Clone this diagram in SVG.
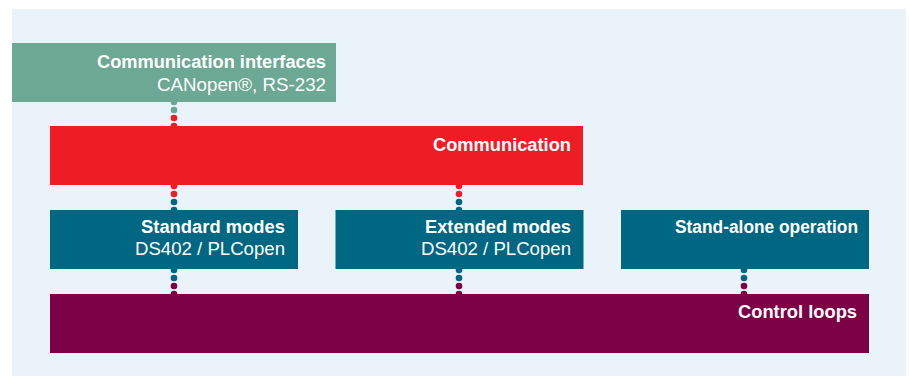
<svg xmlns="http://www.w3.org/2000/svg" width="909" height="376" viewBox="0 0 909 376">
<style>
.t{font-family:"Liberation Sans",Arial,sans-serif;font-size:17.5px;fill:#fff;text-anchor:end}
.b{font-weight:bold}
</style>
<rect x="0" y="0" width="909" height="376" fill="#fff"/>
<rect x="12" y="9" width="894" height="367" fill="#eaf2fa"/>
<g id="connectors">
<g fill="#6ca893"><circle cx="174" cy="102" r="3.3"/><circle cx="174" cy="110" r="3.3"/></g>
<g fill="#ee1c25"><circle cx="174" cy="118" r="3.3"/><circle cx="174" cy="126" r="3.3"/>
<circle cx="174" cy="186" r="3.3"/><circle cx="174" cy="194" r="3.3"/>
<circle cx="459" cy="186" r="3.3"/><circle cx="459" cy="194" r="3.3"/></g>
<g fill="#006783"><circle cx="174" cy="202" r="3.3"/><circle cx="174" cy="210" r="3.3"/>
<circle cx="459" cy="202" r="3.3"/><circle cx="459" cy="210" r="3.3"/>
<circle cx="174" cy="270" r="3.3"/><circle cx="174" cy="278" r="3.3"/>
<circle cx="459" cy="270" r="3.3"/><circle cx="459" cy="278" r="3.3"/>
<circle cx="744" cy="270" r="3.3"/><circle cx="744" cy="278" r="3.3"/></g>
<g fill="#7b0046"><circle cx="174" cy="286" r="3.3"/><circle cx="174" cy="294" r="3.3"/>
<circle cx="459" cy="286" r="3.3"/><circle cx="459" cy="294" r="3.3"/>
<circle cx="744" cy="286" r="3.3"/><circle cx="744" cy="294" r="3.3"/></g>
</g>
<g id="comm-interfaces">
<rect x="12" y="43" width="324" height="59" fill="#6ca893"/>
<text class="t b" x="326" y="67.5" textLength="229" lengthAdjust="spacingAndGlyphs">Communication interfaces</text>
<text class="t" x="326" y="90.5" textLength="169" lengthAdjust="spacingAndGlyphs">CANopen®, RS-232</text>
</g>
<g id="communication">
<rect x="50" y="126" width="533" height="59" fill="#ee1c25"/>
<text class="t b" x="571" y="150.7" textLength="138" lengthAdjust="spacingAndGlyphs">Communication</text>
</g>
<g id="standard-modes">
<rect x="50" y="210" width="248" height="59" fill="#006783"/>
<text class="t b" x="285" y="232.7" textLength="144" lengthAdjust="spacingAndGlyphs">Standard modes</text>
<text class="t" x="285" y="255" textLength="150" lengthAdjust="spacingAndGlyphs">DS402 / PLCopen</text>
</g>
<g id="extended-modes">
<rect x="335.5" y="210" width="248" height="59" fill="#006783"/>
<text class="t b" x="571" y="232.7" textLength="146" lengthAdjust="spacingAndGlyphs">Extended modes</text>
<text class="t" x="571" y="255" textLength="150" lengthAdjust="spacingAndGlyphs">DS402 / PLCopen</text>
</g>
<g id="stand-alone">
<rect x="621" y="210" width="248" height="59" fill="#006783"/>
<text class="t b" x="858" y="233" textLength="183" lengthAdjust="spacingAndGlyphs">Stand-alone operation</text>
</g>
<g id="control-loops">
<rect x="50" y="294" width="819" height="59" fill="#7b0046"/>
<text class="t b" x="857" y="317.7" textLength="119" lengthAdjust="spacingAndGlyphs">Control loops</text>
</g>
</svg>
